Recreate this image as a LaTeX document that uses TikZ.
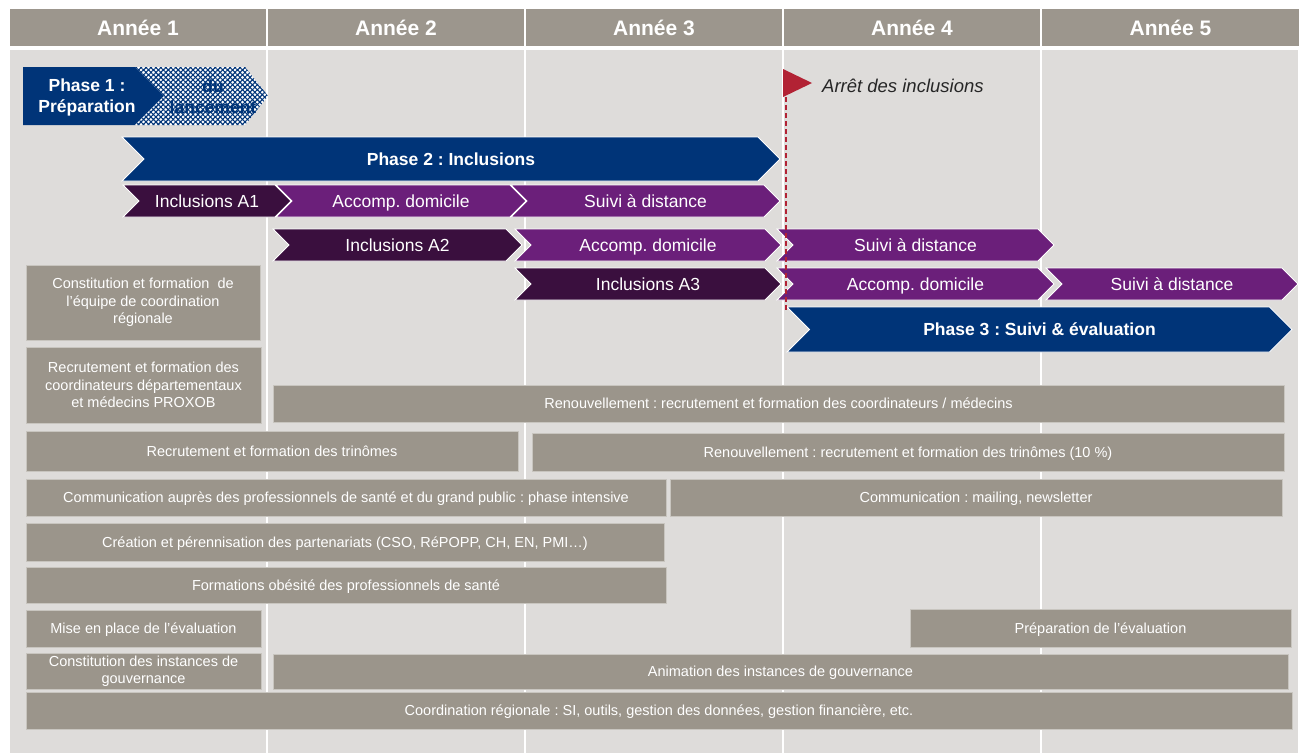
\documentclass[tikz,border=0pt]{standalone}
\usepackage{fontspec}
\setmainfont{Liberation Sans}
\usetikzlibrary{patterns.meta}
\definecolor{headgray}{RGB}{156,150,141}
\definecolor{bggray}{RGB}{222,220,218}
\definecolor{bargray}{RGB}{155,149,139}
\definecolor{phblue}{RGB}{0,52,120}
\definecolor{incpurple}{RGB}{58,15,62}
\definecolor{accpurple}{RGB}{107,31,122}
\definecolor{flagred}{RGB}{178,34,52}
\frenchspacing

% chevron: fill style, text style, name, x left, x tip, y top, y bottom, text
\newcommand{\ganttchev}[8]{%
  \pgfmathsetmacro{\chevd}{(#7-#6)/2}%
  \pgfmathsetmacro{\chevm}{(#6+#7)/2}%
  \filldraw[#1] (#4,#6) -- ({#5-\chevd},#6) -- (#5,\chevm) -- ({#5-\chevd},#7) -- (#4,#7) -- ({#4+\chevd},\chevm) -- cycle;
  \node[#2] (#3) at ({(#4+#5)/2},\chevm) {#8};}

\begin{document}
\begin{tikzpicture}[x=1pt, y=-1pt,
          year/.style={
              fill=headgray,
              text=white,
              font=\fontsize{21}{24}\selectfont\bfseries,
              minimum width=256,
              minimum height=37,
              inner sep=0
            },
          bar/.style={
              fill=bargray,
              draw=bargray!55!white,
              line width=0.8pt,
              text=white,
              font=\fontsize{14.5}{17.5}\selectfont,
              align=center,
              inner sep=0
            },
          oneline/.style={text height=10.6pt, text depth=0pt},
          blueshape/.style={fill=phblue, draw=white, line width=0.8pt},
          incshape/.style={fill=incpurple, draw=white, line width=0.8pt},
          accshape/.style={fill=accpurple, draw=white, line width=0.8pt},
          chevtext/.style={text=white, font=\fontsize{17.5}{20}\selectfont, text height=12.8pt, text depth=0pt, inner sep=0},
          phasetext/.style={text=white, font=\fontsize{17.5}{21}\selectfont\bfseries, align=center, inner sep=0}
        ]
        \useasboundingbox (0,0) rectangle (1301,753);
        \fill[bggray] (10,50) rectangle (1298,753);

        % years
        \node[year] (year1) at (138,27.5) {Année 1};
        \node[year] (year2) at (396,27.5) {Année 2};
        \node[year] (year3) at (654,27.5) {Année 3};
        \node[year] (year4) at (912,27.5) {Année 4};
        \node[year, minimum width=257] (year5) at (1170.5,27.5) {Année 5};
        \foreach \x in {267,525,783,1041}
          \draw[white, line width=2pt] (\x,50) -- (\x,753);

        % phase 1
        \fill[phblue] (23,67) -- (135,67) -- (164,96) -- (135,125) -- (23,125) -- cycle;
        \fill[white] (135,67) -- (245,67) -- (268,96) -- (245,125) -- (135,125) -- (164,96) -- cycle;
        \fill[pattern={Lines[angle=45, distance=3.5pt, line width=1.1pt]}, pattern color=phblue]
          (135,67) -- (245,67) -- (268,96) -- (245,125) -- (135,125) -- (164,96) -- cycle;
        \fill[pattern={Lines[angle=-45, distance=3.5pt, line width=1.1pt]}, pattern color=phblue]
          (135,67) -- (245,67) -- (268,96) -- (245,125) -- (135,125) -- (164,96) -- cycle;
        \node[phasetext] (phase1) at (87,97) {Phase 1 :\\Préparation};
        \node[phasetext, text=phblue] (phase1_launch) at (213,97) {du\\lancement};

        % phase 2 and cohorts
        \ganttchev{blueshape}{phasetext}{phase2}{122}{780}{137}{181}{Phase 2 : Inclusions}
        \ganttchev{incshape}{chevtext}{inc_a1}{123}{291}{185}{217}{Inclusions A1}
        \ganttchev{accshape}{chevtext}{acc_a1}{276}{526}{185}{217}{Accomp. domicile}
        \ganttchev{accshape}{chevtext}{suivi_a1}{511}{780}{185}{217}{Suivi à distance}
        \ganttchev{incshape}{chevtext}{inc_a2}{273}{522}{229}{261}{Inclusions A2}
        \ganttchev{accshape}{chevtext}{acc_a2}{515}{781}{229}{261}{Accomp. domicile}
        \ganttchev{accshape}{chevtext}{suivi_a2}{777}{1054}{229}{261}{Suivi à distance}
        \ganttchev{incshape}{chevtext}{inc_a3}{515}{781}{268}{300}{Inclusions A3}
        \ganttchev{accshape}{chevtext}{acc_a3}{777}{1054}{268}{300}{Accomp. domicile}
        \ganttchev{accshape}{chevtext}{suivi_a3}{1046}{1298}{268}{300}{Suivi à distance}
        \ganttchev{blueshape}{phasetext}{phase3}{787}{1292}{307}{352}{Phase 3 : Suivi \& évaluation}

        % stop of inclusions
        \coordinate (flag_top) at (786,97);
        \coordinate (flag_end) at (786,312);
        \fill[flagred] (783,69) -- (812,83) -- (783,97) -- cycle;
        \draw[flagred, line width=2.2pt, dash pattern=on 5pt off 3pt] (flag_top) -- (flag_end);
        \node[anchor=west, inner sep=0, text=black!85, font=\fontsize{18.5}{22}\selectfont\itshape] (stop_label) at (822,86) {Arrêt des inclusions};

        % activities
        \node[bar, minimum width=234, minimum height=75] (con_equipe) at (143,302.5) {Constitution et formation\ \ de\\l'équipe de coordination\\régionale};
        \node[bar, minimum width=235, minimum height=76] (rec_coord) at (143.5,385) {Recrutement et formation des\\coordinateurs départementaux\\et médecins PROXOB};
        \node[bar, oneline, minimum width=1011, minimum height=37] (renouv_coord) at (778.5,403.5) {Renouvellement : recrutement et formation des coordinateurs / médecins};
        \node[bar, oneline, minimum width=492, minimum height=40] (rec_trin) at (272,451) {Recrutement et formation des trinômes};
        \node[bar, oneline, minimum width=752, minimum height=38] (renouv_trin) at (908,452) {Renouvellement : recrutement et formation des trinômes (10 \%)};
        \node[bar, oneline, minimum width=640, minimum height=37] (com_intense) at (346,497.5) {Communication auprès des professionnels de santé et du grand public : phase intensive};
        \node[bar, oneline, minimum width=612, minimum height=37] (com_mail) at (976,497.5) {Communication : mailing, newsletter};
        \node[bar, oneline, minimum width=638, minimum height=38] (partenariats) at (345,542) {Création et pérennisation des partenariats (CSO, RéPOPP, CH, EN, PMI…)};
        \node[bar, oneline, minimum width=640, minimum height=36] (formations) at (346,585) {Formations obésité des professionnels de santé};
        \node[bar, oneline, minimum width=235, minimum height=37] (mise_eval) at (143.5,628.5) {Mise en place de l'évaluation};
        \node[bar, oneline, minimum width=381, minimum height=38] (prep_eval) at (1100.5,628) {Préparation de l'évaluation};
        \node[bar, minimum width=235, minimum height=36] (con_instances) at (143.5,671) {Constitution des instances de\\gouvernance};
        \node[bar, oneline, minimum width=1015, minimum height=35] (anim_instances) at (780.5,671.5) {Animation des instances de gouvernance};
        \node[bar, oneline, minimum width=1266, minimum height=37] (coord_reg) at (659,710.5) {Coordination régionale : SI, outils, gestion des données, gestion financière, etc.};
      \end{tikzpicture}
\end{document}
